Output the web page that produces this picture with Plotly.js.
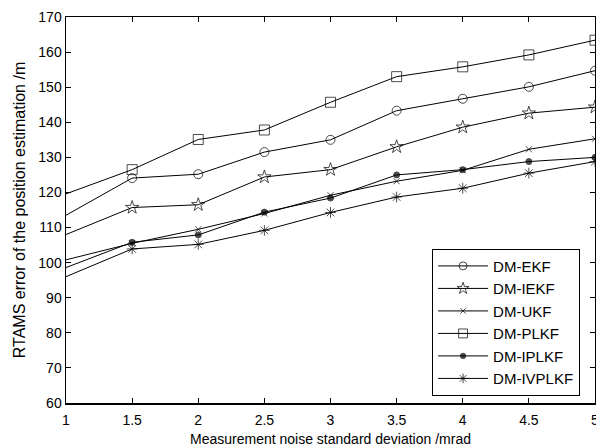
<!DOCTYPE html>
<html>
<head>
<meta charset="utf-8">
<script src="https://cdn.plot.ly/plotly-3.0.1.min.js"></script>
<style>html,body{margin:0;padding:0;background:#fff;}#chart{width:596px;height:447px;}</style>
</head>
<body>
<div id="chart"></div>
<script>
const noiseStd = [1, 1.5, 2, 2.5, 3, 3.5, 4, 4.5, 5];
const dmEKF    = [113.5, 124.1, 125.2, 131.5, 135.0, 143.3, 146.7, 150.1, 154.7];
const dmIEKF   = [108.0, 115.7, 116.5, 124.4, 126.5, 133.0, 138.6, 142.6, 144.3];
const dmUKF    = [100.8, 105.5, 109.5, 114.0, 119.2, 123.2, 126.3, 132.3, 135.3];
const dmPLKF   = [119.6, 126.5, 135.1, 137.8, 145.7, 153.0, 155.8, 159.2, 163.4];
const dmIPLKF  = [98.6, 105.8, 107.9, 114.4, 118.4, 125.0, 126.5, 128.8, 130.0];
const dmIVPLKF = [96.0, 103.9, 105.2, 109.2, 114.3, 118.7, 121.2, 125.5, 128.8];
const seriesNames = ['DM-EKF', 'DM-IEKF', 'DM-UKF', 'DM-PLKF', 'DM-IPLKF', 'DM-IVPLKF'];
const xTicks = [1, 1.5, 2, 2.5, 3, 3.5, 4, 4.5, 5];
const yTicks = [60, 70, 80, 90, 100, 110, 120, 130, 140, 150, 160, 170];

const seriesData = [dmEKF, dmIEKF, dmUKF, dmPLKF, dmIPLKF, dmIVPLKF];
const symbols = ['circle-open', 'star-open', 'x-thin-open', 'square-open', 'circle', 'asterisk-open'];
const sizes = [9, 10, 6, 10, 6, 9];

function sizeArr(s) { return noiseStd.map((v, i) => i === 0 ? 0 : s); }

const traces = seriesData.map((ys, k) => ({
  x: noiseStd, y: ys, type: 'scatter', mode: 'lines+markers', name: seriesNames[k],
  legendgroup: 'g' + k,
  line: {color: '#000', width: 1},
  marker: {symbol: symbols[k], size: sizeArr(sizes[k]), color: '#000', line: {color: '#000', width: 1}},
  cliponaxis: false
}));

const font = 'Arial, "Liberation Sans", sans-serif';
const layout = {
  width: 596, height: 447,
  margin: {l: 66, r: 1, t: 17, b: 44},
  paper_bgcolor: '#fff', plot_bgcolor: '#fff',
  font: {family: font, size: 14, color: '#000'},
  showlegend: true,
  legend: {
    x: 0.692, y: 0.019, xanchor: 'left', yanchor: 'bottom',
    bgcolor: '#fff', bordercolor: '#000', borderwidth: 1,
    font: {family: font, size: 15, color: '#000'},
    tracegroupgap: 0, traceorder: 'grouped', itemwidth: 50
  },
  xaxis: {
    range: [1, 5], tickvals: xTicks, ticktext: xTicks.map(String),
    showline: true, linecolor: '#000', linewidth: 1.5, mirror: 'ticks',
    ticks: 'inside', ticklen: 5, tickcolor: '#000', showgrid: false, zeroline: false,
    tickfont: {size: 14}, automargin: false, ticklabeloverflow: 'allow', ticklabelstandoff: 4,
    title: {text: 'Measurement noise standard deviation /mrad', font: {size: 14}, standoff: 10}
  },
  yaxis: {
    range: [60, 170], tickvals: yTicks, ticktext: yTicks.map(String),
    showline: true, linecolor: '#000', linewidth: 1.5, mirror: 'ticks',
    ticks: 'inside', ticklen: 5, tickcolor: '#000', showgrid: false, zeroline: false,
    tickfont: {size: 14}, automargin: false,
    title: {text: 'RTAMS error of the position estimation /m', font: {size: 16}, standoff: 8}
  }
};

Plotly.newPlot('chart', traces, layout, {displayModeBar: false, staticPlot: true});
</script>
</body>
</html>
